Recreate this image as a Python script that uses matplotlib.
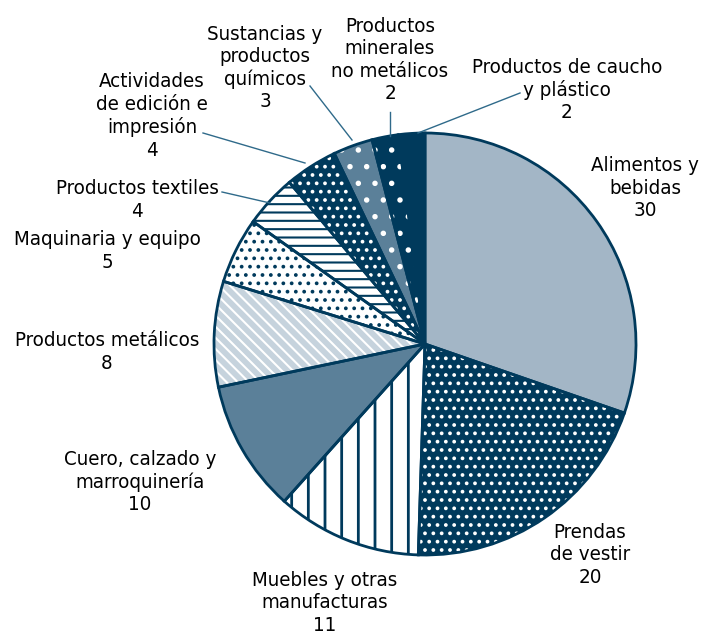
# -*- coding: utf-8 -*-
# Grafico de pastel: distribucion por rama de actividad
import matplotlib.pyplot as plt

# Ramas de actividad (en el orden del pastel, sentido horario desde arriba)
ramas = ['Alimentos y\nbebidas', 'Prendas\nde vestir', 'Muebles y otras\nmanufacturas',
         'Cuero, calzado y\nmarroquinería', 'Productos metálicos', 'Maquinaria y equipo',
         'Productos textiles', 'Actividades\nde edición e\nimpresión',
         'Sustancias y\nproductos\nquímicos', 'Productos\nminerales\nno metálicos',
         'Productos de caucho\ny plástico']
# Valores (porcentaje)
valores = [30, 20, 11, 10, 8, 5, 4, 4, 3, 2, 2]

# Colores y tramas de cada rebanada
oscuro = '#003a5c'
fondos = ['#a3b6c6', oscuro, 'white', '#5b8099', '#c6d3dd', 'white',
          'white', oscuro, '#5b8099', oscuro, oscuro]
tramas = [None, '..', '|', None, '\\\\\\', '..', '--', '..', '.', '.', None]
color_trama = ['white', 'white', oscuro, 'white', 'white', oscuro,
               oscuro, 'white', 'white', 'white', 'white']

# Posicion de las etiquetas en pixeles (x, y desde arriba)
pos_etiquetas = [(645, 188), (590, 555), (325, 603), (140, 482), (107, 352),
                 (107, 251), (137, 200), (152, 116), (265, 68), (390, 60), (567, 90)]
# Lineas guia (inicio, fin) en pixeles
guias = {7: ((203, 133), (305, 163)), 6: ((222, 192), (270, 203)),
         8: ((310, 86), (352, 140)), 9: ((390, 112), (390, 136)),
         10: ((520, 93), (418, 133))}

W, H = 713, 637
fig = plt.figure(figsize=(W / 100, H / 100), dpi=100)
ax = fig.add_axes([0, 0, 1, 1])

centro = (425, H - 344)
radio = 211

# Primera pasada: relleno y trama
cunas, _ = ax.pie(valores, startangle=90, counterclock=False, center=centro,
                  radius=radio, wedgeprops=dict(linewidth=0))
for i, c in enumerate(cunas):
    c.set_facecolor(fondos[i])
    c.set_edgecolor(color_trama[i])
    if tramas[i]:
        c.set_hatch(tramas[i])
    if hasattr(c, 'set_hatch_linewidth'):
        c.set_hatch_linewidth(2.0 if tramas[i] == '|' else 1.5)

# Segunda pasada: bordes de las rebanadas
ax.pie(valores, startangle=90, counterclock=False, center=centro, radius=radio,
       wedgeprops=dict(fill=False, edgecolor=oscuro, linewidth=2))

# Etiquetas
for i, (x, y) in enumerate(pos_etiquetas):
    ax.text(x, H - y, '%s\n%d' % (ramas[i], valores[i]), ha='center', va='center',
            fontsize=14.7, fontstretch='condensed', family='DejaVu Sans',
            linespacing=1.22, color='black')

# Lineas guia
for i, (p0, p1) in guias.items():
    ax.plot([p0[0], p1[0]], [H - p0[1], H - p1[1]], color='#2f6a8a', lw=1)

ax.set_xlim(0, W)
ax.set_ylim(0, H)
ax.set_aspect('equal')
ax.axis('off')

plt.savefig('out.png', dpi=100)
